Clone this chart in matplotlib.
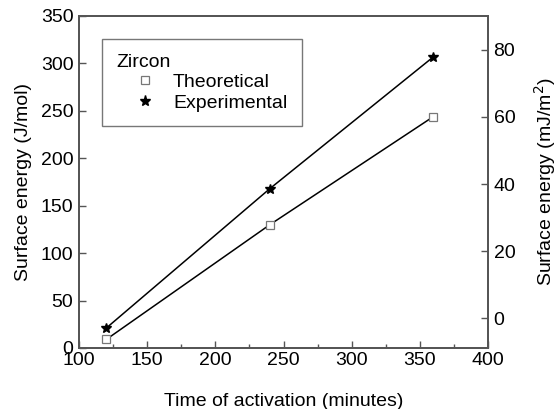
import matplotlib
matplotlib.use('Agg')
import matplotlib.pyplot as plt
from matplotlib.ticker import MultipleLocator
from matplotlib.lines import Line2D

plt.rcParams['font.family'] = ['Liberation Sans', 'DejaVu Sans']

tiempo = [120, 240, 360]
teorico = [9, 130, 244]
experimental = [21, 168, 307]

gris = '#555555'
fs = 14

fig = plt.figure(figsize=(5.58, 4.09), dpi=100)
ax = fig.add_axes([79/558, 1 - 348/409, 409/558, 332/409])

ax.plot(tiempo, experimental, color='black', linewidth=1.1, marker='*',
        markersize=7.5, markerfacecolor='black', markeredgecolor='black', zorder=3)
ax.plot(tiempo, teorico, color='black', linewidth=1.1, marker='s',
        markersize=6, markerfacecolor='white', markeredgecolor='#777777',
        markeredgewidth=0.9, zorder=3)

ax.set_xlim(100, 400)
ax.set_ylim(0, 350)
ax.xaxis.set_major_locator(MultipleLocator(50))
ax.xaxis.set_minor_locator(MultipleLocator(25))
ax.yaxis.set_major_locator(MultipleLocator(50))
ax.tick_params(axis='both', which='both', direction='in', color=gris, labelsize=fs)
ax.tick_params(axis='both', which='major', length=5, width=1)
ax.tick_params(axis='both', which='minor', length=3, width=1)
ax.tick_params(axis='x', pad=3)
ax.tick_params(axis='y', pad=4, right=False)
for s in ax.spines.values():
    s.set_color(gris)
    s.set_linewidth(1.3)

ax.set_xlabel('Time of activation (minutes)', fontsize=fs, labelpad=17)
ax.set_ylabel('Surface energy (J/mol)', fontsize=fs, labelpad=6)

ax2 = ax.twinx()
ax2.set_ylim(-8.9, 90.1)
ax2.yaxis.set_major_locator(MultipleLocator(20))
ax2.tick_params(axis='y', direction='in', color=gris, length=5, width=1,
                labelsize=fs, pad=4)
for s in ax2.spines.values():
    s.set_color(gris)
    s.set_linewidth(1.3)
ax2.set_ylabel('Surface energy (mJ/m$^2$)', fontsize=fs, labelpad=12)

handles = [
    Line2D([], [], linestyle='none', marker='s', markersize=6,
           markerfacecolor='white', markeredgecolor='#777777', markeredgewidth=0.9),
    Line2D([], [], linestyle='none', marker='*', markersize=8,
           markerfacecolor='black', markeredgecolor='black'),
]
leg = ax.legend(handles, ['Theoretical', 'Experimental'], title='Zircon',
                loc='upper left', bbox_to_anchor=(23/409, 1 - 23/332),
                borderaxespad=0,
                fontsize=fs, title_fontsize=fs, frameon=True, fancybox=False,
                edgecolor=gris, handlelength=2.9, handletextpad=0.0,
                borderpad=0.75, labelspacing=0.15, alignment='left')
leg.get_frame().set_linewidth(1.0)

fig.savefig('out.png', dpi=100)
